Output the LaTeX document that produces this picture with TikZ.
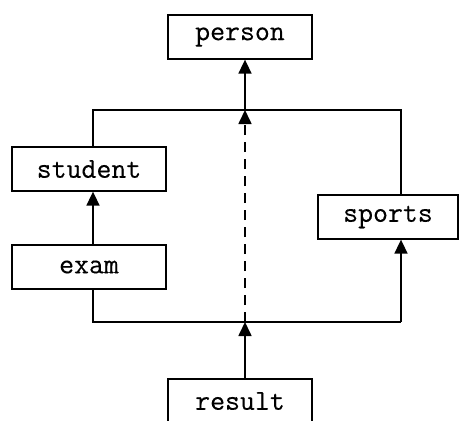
\documentclass[tikz,border=0pt]{standalone}
\usepackage{fontspec}
\setmonofont{Latin Modern Mono}[FakeBold=0.25]
\usetikzlibrary{arrows.meta}
\begin{document}
\begin{tikzpicture}[x=1pt,y=-1pt,
  box/.style={draw,line width=1.3pt,minimum height=44pt,inner sep=0pt,
    font=\ttfamily\fontsize{29}{29}\selectfont},
  link/.style={line width=1.7pt},
  arr/.style={link,-{Triangle[length=14pt,width=13pt]}},
  dashlink/.style={arr,dash pattern=on 10pt off 7pt}]
\useasboundingbox (0,0) rectangle (472,421);
\clip (0,0) rectangle (472,421);

% classes
\node[box,minimum width=144pt] (person)  at (240,37)  {person};
\node[box,minimum width=154pt] (student) at (89,169)  {student};
\node[box,minimum width=154pt] (exam)    at (89,267)  {exam};
\node[box,minimum width=140pt] (sports)  at (388,217) {sports};
\node[box,minimum width=144pt] (result)  at (240,401) {result};

% junction points of the two bars
\coordinate (tl) at (93,110);
\coordinate (tm) at (245,110);
\coordinate (tr) at (401,110);
\coordinate (bl) at (93,322);
\coordinate (bm) at (245,322);
\coordinate (br) at (401,322);

% upper bar
\draw[link] (tl |- student.north) -- (tl) -- (tr) -- (tr |- sports.north);
\draw[arr] (tm) -- (tm |- person.south);

% lower bar
\draw[link] (bl |- exam.south) -- (bl) -- (br);
\draw[arr] (br) -- (br |- sports.south);
\draw[arr] (tl |- exam.north) -- (tl |- student.south);
\draw[arr] (bm |- result.north) -- (bm);
\draw[dashlink] (bm) -- (tm);
\end{tikzpicture}
\end{document}
